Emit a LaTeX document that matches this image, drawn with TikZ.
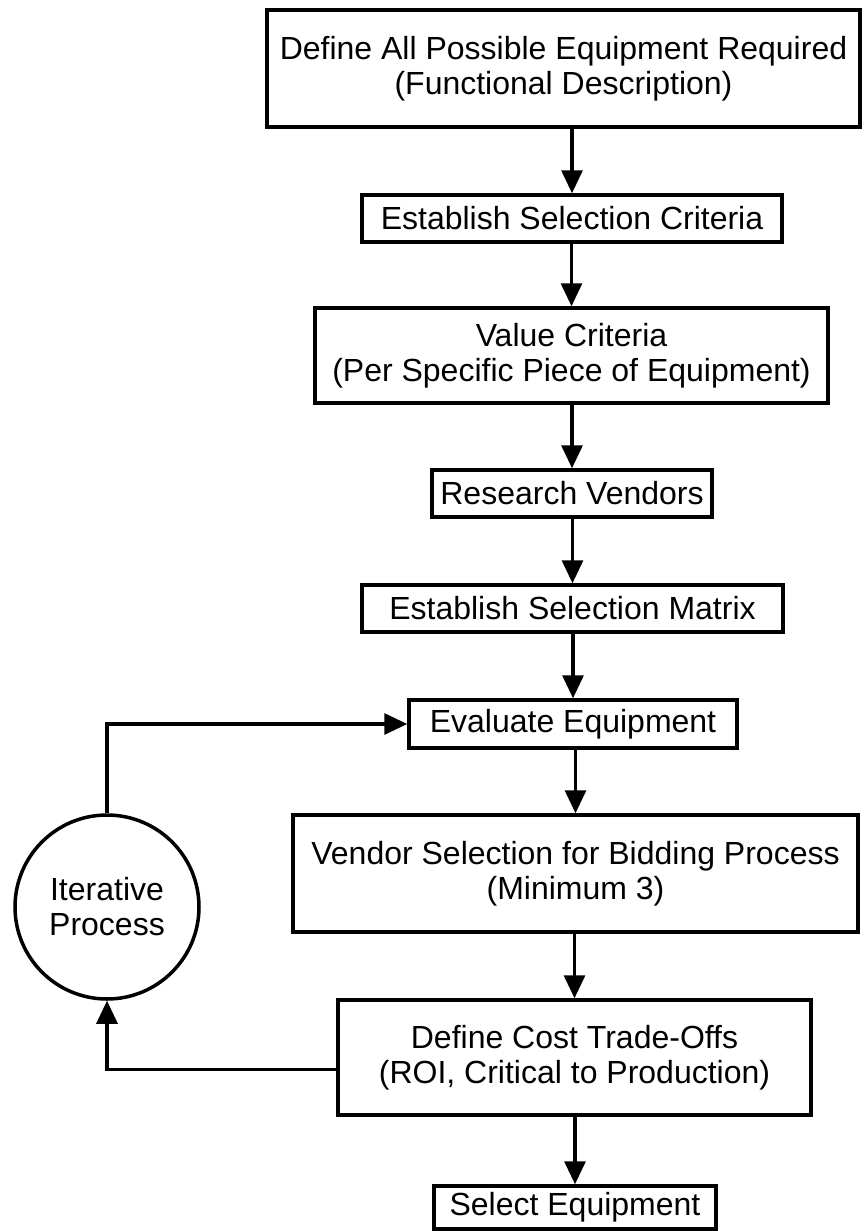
\documentclass[tikz,border=0pt]{standalone}
\usepackage{fontspec}
\setmainfont{Liberation Sans}
\usetikzlibrary{arrows.meta}
\begin{document}
\begin{tikzpicture}[x=1pt,y=-1pt,
  box/.style={draw, line width=3.5pt, rectangle, inner sep=0pt, align=center,
    font=\fontsize{32}{35}\selectfont},
  circ/.style={draw, line width=3.5pt, circle, inner sep=0pt, align=center,
    minimum size=184pt, font=\fontsize{32}{35}\selectfont},
  arr/.style={line width=3.2pt, -{Triangle[length=23pt,width=21pt]}},
  ]
\useasboundingbox (0,0) rectangle (866,1231);
\node[box, minimum width=593pt, minimum height=117pt] (n1) at (563.5,68.5)
  {Define All Possible Equipment Required\\(Functional Description)};
\node[box, minimum width=420pt, minimum height=47pt] (n2) at (572,218.5)
  {Establish Selection Criteria};
\node[box, minimum width=513pt, minimum height=95pt] (n3) at (571.5,355.5)
  {Value Criteria\\(Per Specific Piece of Equipment)};
\node[box, minimum width=280pt, minimum height=47pt] (n4) at (572,493.5)
  {Research Vendors};
\node[box, minimum width=421pt, minimum height=47pt] (n5) at (572.5,608.5)
  {Establish Selection Matrix};
\node[box, minimum width=328pt, minimum height=48pt] (n6) at (573,724)
  {Evaluate Equipment};
\node[box, minimum width=565pt, minimum height=117pt] (n7) at (575.5,873.5)
  {Vendor Selection for Bidding Process\\(Minimum 3)};
\node[box, minimum width=473pt, minimum height=115pt] (n8) at (574.5,1057.5)
  {Define Cost Trade-Offs\\(ROI, Critical to Production)};
\node[box, minimum width=282pt, minimum height=43pt] (n9) at (575,1207.5)
  {Select Equipment};
\node[circ] (it) at (107,907) {Iterative\\Process};

\draw[arr] (n2.north |- n1.south) -- (n2.north);
\draw[arr] (n3.north |- n2.south) -- (n3.north);
\draw[arr] (n4.north |- n3.south) -- (n4.north);
\draw[arr] (n5.north |- n4.south) -- (n5.north);
\draw[arr] (n6.north |- n5.south) -- (n6.north);
\draw[arr] (n7.north |- n6.south) -- (n7.north);
\draw[arr] (n8.north |- n7.south) -- (n8.north);
\draw[arr] (n9.north |- n8.south) -- (n9.north);
\draw[arr] ([yshift=-12pt]n8.west) -| (it.south);
\draw[arr] (it.north) |- (n6.west);
\end{tikzpicture}
\end{document}
